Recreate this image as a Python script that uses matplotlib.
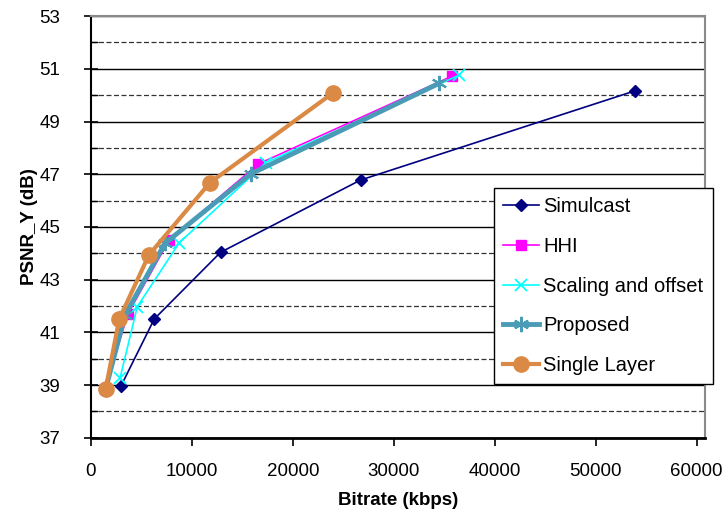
import matplotlib
matplotlib.use("Agg")
import matplotlib.pyplot as plt
from matplotlib.ticker import MultipleLocator

plt.rcParams['font.family'] = ['Liberation Sans', 'DejaVu Sans']

# Rate-distortion points: bitrate (kbps) and luma PSNR (dB)
simulcast_rate = [2950, 6270, 12840, 26700, 53930]
simulcast_psnr = [38.95, 41.51, 44.04, 46.78, 50.17]

hhi_rate = [1400, 3630, 7750, 16570, 35810]
hhi_psnr = [38.85, 41.69, 44.51, 47.39, 50.73]

scaling_rate = [2870, 4590, 8740, 17330, 36470]
scaling_psnr = [39.26, 41.98, 44.40, 47.44, 50.76]

proposed_rate = [1450, 3370, 7330, 15810, 34490]
proposed_psnr = [38.85, 41.66, 44.38, 47.01, 50.45]

single_rate = [1450, 2800, 5740, 11780, 23990]
single_psnr = [38.85, 41.51, 43.94, 46.68, 50.09]

x_ticks = [0, 10000, 20000, 30000, 40000, 50000, 60000]
y_ticks = [37, 39, 41, 43, 45, 47, 49, 51, 53]

TICK_FS = 13.5
LEGEND_FS = 14.5

fig = plt.figure(figsize=(7.28, 5.20), dpi=100)
ax = fig.add_axes([0.125, 0.158, 0.843, 0.811])

ax.plot(simulcast_rate, simulcast_psnr, color='#000080', lw=1.2,
        marker='D', ms=6, mfc='#000080', mec='#000080', label='Simulcast', zorder=3)
ax.plot(hhi_rate, hhi_psnr, color='#FF00FF', lw=1.2,
        marker='s', ms=7, mfc='#FF00FF', mec='#FF00FF', label='HHI', zorder=4)
ax.plot(scaling_rate, scaling_psnr, color='#00FFFF', lw=1.2,
        marker='x', ms=8, mew=1.3, label='Scaling and offset', zorder=5)
ax.plot(proposed_rate, proposed_psnr, color='#4A9BB5', lw=3.5,
        marker=(6, 2, 0), ms=11, mew=1.5, mec='#4A9BB5', label='Proposed', zorder=6)
ax.plot(single_rate, single_psnr, color='#DA8A45', lw=3.0,
        marker='o', ms=11, mfc='#DA8A45', mec='#DA8A45', label='Single Layer', zorder=7)

ax.set_xlim(0, 60800)
ax.set_ylim(37, 53)
ax.set_xticks(x_ticks)
ax.set_xticklabels([str(v) for v in x_ticks])
ax.set_yticks(y_ticks)
ax.yaxis.set_minor_locator(MultipleLocator(1))

ax.grid(which='major', axis='y', color='black', lw=1.0, ls='-', zorder=1)
ax.grid(which='minor', axis='y', color='#333333', lw=0.9, ls=(0, (4, 2)), zorder=1)
ax.set_axisbelow(True)

ax.tick_params(axis='both', which='major', labelsize=TICK_FS, length=6, width=1.2, color='black')
ax.tick_params(axis='y', which='major', direction='inout', length=10, pad=17)
ax.tick_params(axis='y', which='minor', direction='in', length=5, width=1.0)
ax.tick_params(axis='x', which='major', direction='out', pad=12)

for side in ('left', 'bottom'):
    ax.spines[side].set_color('black')
ax.spines['left'].set_linewidth(1.5)
ax.spines['bottom'].set_linewidth(2.0)
for side in ('top', 'right'):
    ax.spines[side].set_color('#8A8A8A')
    ax.spines[side].set_linewidth(1.5)

ax.set_xlabel('Bitrate (kbps)', fontsize=TICK_FS, fontweight='bold', labelpad=9)
ax.set_ylabel('PSNR_Y (dB)', fontsize=TICK_FS, fontweight='bold', labelpad=1)

leg = ax.legend(loc='upper left', bbox_to_anchor=(494 / 728, 1 - 188 / 520),
                bbox_transform=fig.transFigure, fontsize=LEGEND_FS, frameon=True,
                fancybox=False, edgecolor='black', framealpha=1.0,
                labelspacing=1.03, handlelength=1.8, handletextpad=0.2,
                borderpad=0.45, borderaxespad=0)
leg.get_frame().set_linewidth(1.0)

fig.savefig('out.png', dpi=100, facecolor='white')
